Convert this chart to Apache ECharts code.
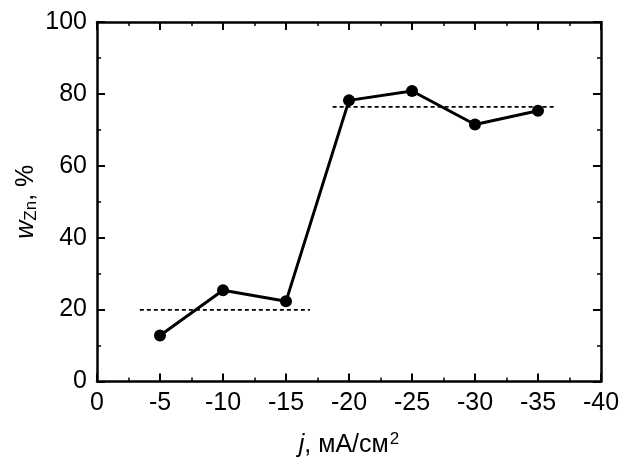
<!DOCTYPE html>
<html>
<head>
<meta charset="utf-8">
<script src="https://cdn.jsdelivr.net/npm/echarts@6/dist/echarts.min.js"></script>
<style>
  html, body { margin: 0; padding: 0; background: #fff; }
  #chart { width: 633px; height: 463px; }
</style>
</head>
<body>
<div id="chart"></div>
<script>
// current density, mA/cm2
const currents = [-5, -10, -15, -20, -25, -30, -35];
// zinc content, %
const wZn = [12.8, 25.4, 22.3, 78.2, 80.8, 71.5, 75.3];
// average levels (dashed)
const lowLevel = [[-3.4, 19.9], [-16.9, 19.9]];
const highLevel = [[-18.7, 76.4], [-36.3, 76.4]];

const font = 'Liberation Sans, Arial, sans-serif';
const chart = echarts.init(document.getElementById('chart'));

const baseAxis = {
    axisLine: { show: true, onZero: false, lineStyle: { color: '#000', width: 2.5 } },
    axisTick: { show: true, inside: true, length: 8, lineStyle: { color: '#000', width: 2 } },
    minorTick: { show: true, splitNumber: 2, length: 4, lineStyle: { color: '#000', width: 1.5 } },
    splitLine: { show: false },
};

chart.setOption({
    animation: false,
    backgroundColor: '#fff',
    grid: { left: 97, right: 32, top: 22, bottom: 80 },
    xAxis: [
        {
            ...baseAxis,
            type: 'value', min: -40, max: 0, interval: 5, inverse: true,
            axisLabel: { color: '#000', fontSize: 25, fontFamily: font, margin: 9 },
            name: '{i|j}{t|, мА/см}{sup|2}',
            nameLocation: 'middle',
            nameGap: 49,
            nameMoveOverlap: false,
            nameTextStyle: {
                rich: {
                    i: { fontSize: 25, fontFamily: font, fontStyle: 'italic', color: '#000' },
                    t: { fontSize: 25, fontFamily: font, color: '#000' },
                    sup: { fontSize: 17, fontFamily: font, color: '#000', verticalAlign: 'top', padding: [0, 0, 13, 1] },
                },
            },
        },
        {
            ...baseAxis,
            type: 'value', min: -40, max: 0, interval: 5, inverse: true, position: 'top',
            axisLabel: { show: false },
        },
    ],
    yAxis: [
        {
            ...baseAxis,
            type: 'value', min: 0, max: 100, interval: 20,
            axisLabel: { color: '#000', fontSize: 25, fontFamily: font, margin: 10 },
            name: '{i|w}{sub|Zn}{t|, %}',
            nameLocation: 'middle',
            nameRotate: 90,
            nameGap: 57,
            nameMoveOverlap: false,
            nameTextStyle: {
                rich: {
                    i: { fontSize: 25, fontFamily: font, fontStyle: 'italic', color: '#000' },
                    sub: { fontSize: 17, fontFamily: font, color: '#000', verticalAlign: 'bottom', padding: [11, 0, 0, 0] },
                    t: { fontSize: 25, fontFamily: font, color: '#000' },
                },
            },
        },
        {
            ...baseAxis,
            type: 'value', min: 0, max: 100, interval: 20, position: 'right',
            axisLabel: { show: false },
        },
    ],
    series: [
        {
            type: 'line',
            data: currents.map((c, i) => [c, wZn[i]]),
            symbol: 'circle',
            symbolSize: 12,
            itemStyle: { color: '#000' },
            lineStyle: { color: '#000', width: 3 },
            z: 3,
        },
        {
            type: 'line', data: lowLevel, symbol: 'none',
            lineStyle: { color: '#000', width: 1.8, type: [4, 3] },
        },
        {
            type: 'line', data: highLevel, symbol: 'none',
            lineStyle: { color: '#000', width: 1.8, type: [4, 3] },
        },
    ],
});
</script>
</body>
</html>
